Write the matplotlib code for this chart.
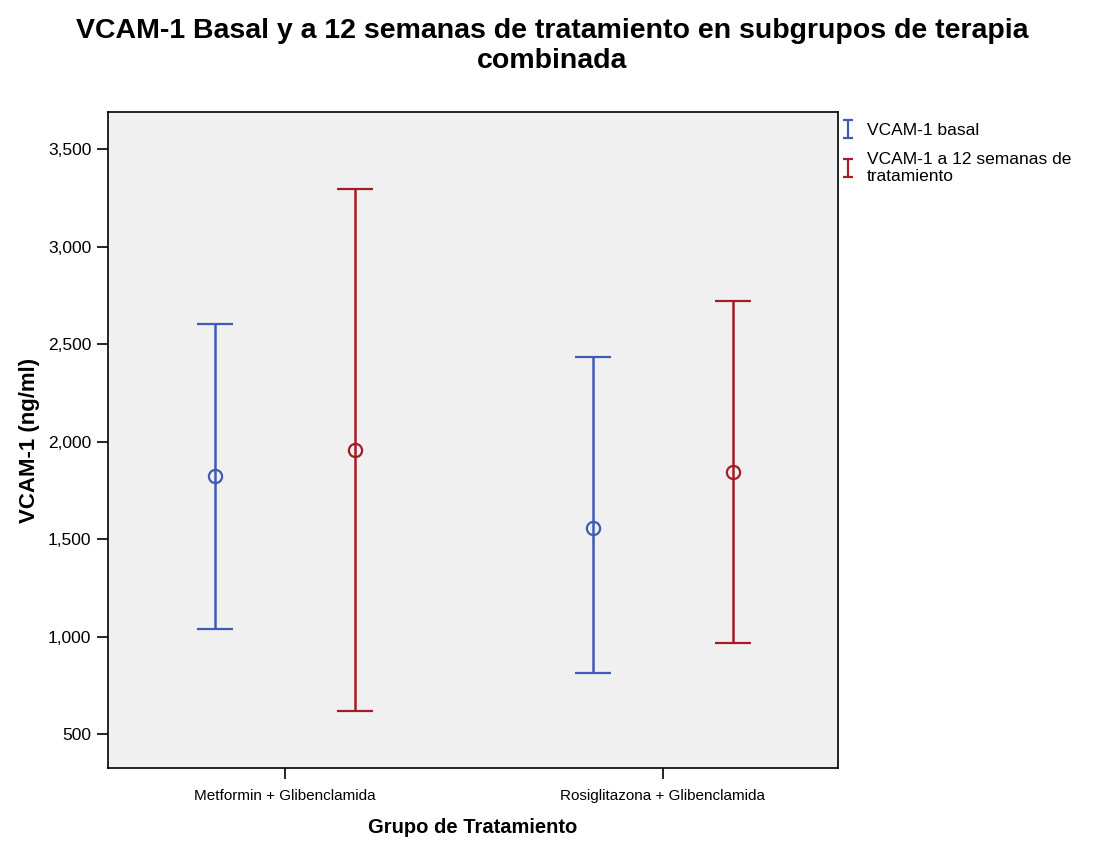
import numpy as np
import matplotlib.pyplot as plt
from matplotlib.lines import Line2D
from matplotlib.path import Path
from matplotlib.ticker import FuncFormatter

plt.rcParams['font.family'] = ['Liberation Sans', 'DejaVu Sans']

groups = ['Metformin + Glibenclamida', 'Rosiglitazona + Glibenclamida']
series = ['VCAM-1 basal', 'VCAM-1 a 12 semanas de\ntratamiento']
colors = ['#3F5BB5', '#A51C24']

mean_basal = [1823, 1556]
low_basal = [1038, 812]
high_basal = [2603, 2433]

mean_12 = [1956, 1844]
low_12 = [618, 967]
high_12 = [3295, 2721]

means = [mean_basal, mean_12]
lows = [low_basal, low_12]
highs = [high_basal, high_12]
offsets = [-0.185, 0.185]

fig = plt.figure(figsize=(10.98, 8.42), dpi=100)
ax = fig.add_axes([108 / 1098, 1 - 768 / 842, 730 / 1098, 656 / 842])
ax.set_facecolor('#F0F0F0')

x = np.arange(len(groups))
for i in range(2):
    m = np.array(means[i])
    err = [m - np.array(lows[i]), np.array(highs[i]) - m]
    ax.errorbar(x + offsets[i], m, yerr=err, fmt='o', color=colors[i],
                mfc='none', ms=9.5, mew=1.6, elinewidth=1.8, capsize=13, capthick=1.8)

ax.set_xlim(-0.468, 1.463)
ax.set_ylim(326, 3690)
ax.set_xticks(x)
ax.set_xticklabels(groups, fontsize=11)
ax.set_yticks([500, 1000, 1500, 2000, 2500, 3000, 3500])
ax.yaxis.set_major_formatter(FuncFormatter(lambda v, p: f'{int(v):,}'))
ax.tick_params(axis='both', length=8, width=1.2, pad=4)
ax.tick_params(axis='y', labelsize=12.5)
ax.tick_params(axis='x', pad=7)
for s in ax.spines.values():
    s.set_linewidth(1.2)

ax.set_xlabel('Grupo de Tratamiento', fontsize=14.5, fontweight='bold', labelpad=11)
ax.set_ylabel('VCAM-1 (ng/ml)', fontsize=16, fontweight='bold', labelpad=6)
fig.suptitle('VCAM-1 Basal y a 12 semanas de tratamiento en subgrupos de terapia\ncombinada',
             fontsize=20.5, fontweight='bold', y=0.979, x=0.503, linespacing=1.2)

ibar = Path([(-0.5, 1), (0.5, 1), (0, 1), (0, -1), (-0.5, -1), (0.5, -1)],
            [Path.MOVETO, Path.LINETO, Path.MOVETO, Path.LINETO, Path.MOVETO, Path.LINETO])
handles = [Line2D([], [], marker=ibar, linestyle='none', color=c, ms=13, mew=1.6)
           for c in colors]
fig.legend(handles, series, loc='upper left', bbox_to_anchor=(832 / 1098, 1 - 116 / 842),
           frameon=False, fontsize=12.5, handlelength=1.0, handletextpad=0.6,
           labelspacing=0.8, borderaxespad=0)

fig.savefig('out.png', dpi=100)
